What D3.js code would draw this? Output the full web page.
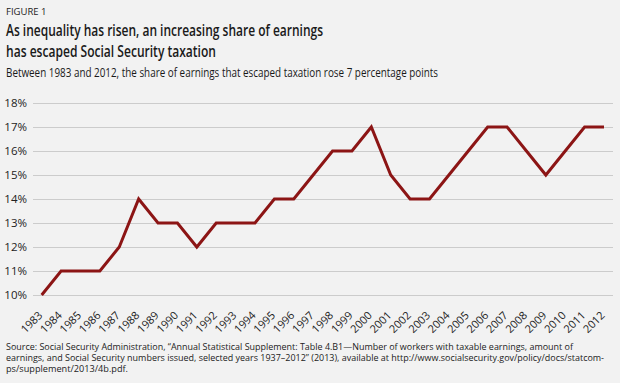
<!DOCTYPE html>
<html><head><meta charset="utf-8">
<script src="https://cdn.jsdelivr.net/npm/d3@7"></script>
<style>html,body{margin:0;padding:0;background:#f2f2f2;}svg{display:block;}</style>
</head><body>
<script>
const years = [1983,1984,1985,1986,1987,1988,1989,1990,1991,1992,1993,1994,1995,1996,1997,1998,1999,2000,2001,2002,2003,2004,2005,2006,2007,2008,2009,2010,2011,2012];
const shares = [10,11,11,11,12,14,13,13,12,13,13,13,14,14,15,16,16,17,15,14,14,15,16,17,17,16,15,16,17,17];
const yTicks = [10,11,12,13,14,15,16,17,18];
const figLabel = "FIGURE 1";
const titleLines = ["As inequality has risen, an increasing share of earnings","has escaped Social Security taxation"];
const subtitle = "Between 1983 and 2012, the share of earnings that escaped taxation rose 7 percentage points";
const sourceLines = ["Source: Social Security Administration, \u201cAnnual Statistical Supplement: Table 4.B1\u2014Number of workers with taxable earnings, amount of",
 "earnings, and Social Security numbers issued, selected years 1937\u20132012\u201d (2013), available at http://www.socialsecurity.gov/policy/docs/statcom-",
 "ps/supplement/2013/4b.pdf."];

const W=620,H=383;
const font = "'Open Sans', 'Noto Sans', sans-serif";
const svg = d3.select("body").append("svg").attr("width",W).attr("height",H).style("background","#f2f2f2");

svg.append("text").attr("x",6).attr("y",15).attr("font-family",font).attr("font-size",9.5).attr("fill","#222").text(figLabel);
const tl = [[36,317],[57,210]];
titleLines.forEach((t,i)=>{
  svg.append("text").attr("x",6).attr("y",tl[i][0]).attr("font-family",font).attr("font-weight",600).attr("font-size",16.5).attr("fill","#1a1a1a")
    .attr("textLength",tl[i][1]).attr("lengthAdjust","spacingAndGlyphs").text(t);
});
svg.append("text").attr("x",6).attr("y",77).attr("font-family",font).attr("font-size",12.5).attr("fill","#1a1a1a")
  .attr("textLength",432).attr("lengthAdjust","spacingAndGlyphs").text(subtitle);

const x = d3.scalePoint().domain(years).range([41.7,604]);
const y = d3.scaleLinear().domain([10,18]).range([295,103]);
const gridX0 = 33, gridX1 = 613;

const gy = svg.append("g").attr("transform",`translate(${gridX0},0)`)
  .call(d3.axisLeft(y).tickValues(yTicks).tickFormat(d=>d+"%").tickSize(-(gridX1-gridX0)).tickPadding(6));
gy.select(".domain").remove();
gy.selectAll(".tick line").attr("stroke","#cccccc").attr("stroke-width",1);
gy.selectAll(".tick text").attr("font-family",font).attr("font-size",11.5).attr("fill","#222");

const gx = svg.append("g").attr("transform",`translate(0,295)`)
  .call(d3.axisBottom(x).tickSize(0).tickPadding(0));
gx.select(".domain").remove();
gx.selectAll(".tick text").attr("font-family",font).attr("font-size",11).attr("fill","#222")
  .attr("text-anchor","end").attr("dy",0).attr("transform","translate(1,21) rotate(-45)");

svg.append("path").datum(years.map((yr,i)=>[yr,shares[i]]))
  .attr("fill","none").attr("stroke","#8c1515").attr("stroke-width",3).attr("stroke-linejoin","miter")
  .attr("d",d3.line().x(d=>x(d[0])).y(d=>y(d[1])));

const sl=[[350,567],[361,598],[372,122]];
sourceLines.forEach((t,i)=>{
  svg.append("text").attr("x",6).attr("y",sl[i][0]).attr("font-family",font).attr("font-size",8.8).attr("fill","#222")
   .attr("textLength",sl[i][1]).attr("lengthAdjust","spacingAndGlyphs").text(t);
});
</script>
</body></html>
